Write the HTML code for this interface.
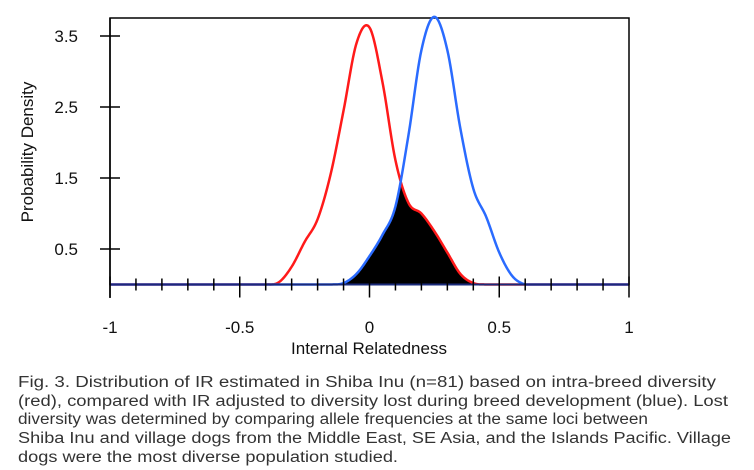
<!DOCTYPE html>
<html><head><meta charset="utf-8"><style>
html,body{margin:0;padding:0;background:#fff;width:754px;height:470px;overflow:hidden}
svg{display:block}
</style></head><body>
<svg id="chart" width="754" height="470" viewBox="0 0 754 470" font-family="Liberation Sans, Arial, sans-serif">
<g id="plot"></g>
<g id="caption" fill="#333" font-size="15.5">
<text x="18" y="387" textLength="698" lengthAdjust="spacingAndGlyphs">Fig. 3. Distribution of IR estimated in Shiba Inu (n=81) based on intra-breed diversity</text>
<text x="18" y="406" textLength="710" lengthAdjust="spacingAndGlyphs">(red), compared with IR adjusted to diversity lost during breed development (blue). Lost</text>
<text x="18" y="424" textLength="630" lengthAdjust="spacingAndGlyphs">diversity was determined by comparing allele frequencies at the same loci between</text>
<text x="18" y="443" textLength="713" lengthAdjust="spacingAndGlyphs">Shiba Inu and village dogs from the Middle East, SE Asia, and the Islands Pacific. Village</text>
<text x="18" y="462" textLength="380" lengthAdjust="spacingAndGlyphs">dogs were the most diverse population studied.</text>
</g>
</svg>
<script>
const redX = [-0.45,-0.4,-0.35,-0.3,-0.25,-0.2,-0.15,-0.1,-0.05,0,0.05,0.1,0.15,0.2,0.25,0.3,0.35,0.4,0.45,0.5];
const redY = [0,0,0.03,0.25,0.6,0.92,1.55,2.45,3.4,3.62,2.85,1.75,1.15,1.0,0.75,0.45,0.15,0.02,0,0];
const blueX = [-0.2,-0.15,-0.1,-0.05,0,0.05,0.1,0.15,0.2,0.25,0.3,0.35,0.4,0.45,0.5,0.55,0.6,0.65];
const blueY = [0,0,0.02,0.15,0.4,0.7,1.1,2.1,3.3,3.77,3.3,2.2,1.35,0.95,0.45,0.12,0.0,0];
const yTicks = [0.5,1.5,2.5,3.5];
const xTickLabels = [-1,-0.5,0,0.5,1];

const NS='http://www.w3.org/2000/svg';
const plot=document.getElementById('plot');
const X0=110,X1=629,Y0=284.5,PY=71;
function sx(v){return X0+(v+1)/2*(X1-X0);}
function sy(v){return Y0-v*PY;}
function mk(tag,attrs,parent){const e=document.createElementNS(NS,tag);for(const k in attrs)e.setAttribute(k,attrs[k]);(parent||plot).appendChild(e);return e;}
function evalCurve(xs,ys,x){
  if(x<=xs[0]||x>=xs[xs.length-1])return 0;
  let i=0;while(xs[i+1]<x)i++;
  const t=(x-xs[i])/(xs[i+1]-xs[i]);
  const p0=ys[Math.max(i-1,0)],p1=ys[i],p2=ys[i+1],p3=ys[Math.min(i+2,ys.length-1)];
  const t2=t*t,t3=t2*t;
  const v=0.5*((2*p1)+(-p0+p2)*t+(2*p0-5*p1+4*p2-p3)*t2+(-p0+3*p1-3*p2+p3)*t3);
  return Math.max(v,0);
}
const step=0.004;
const box=mk('rect',{x:X0,y:18,width:X1-X0,height:Y0-18,fill:'none',stroke:'#000','stroke-width':1.5});


let d='M'+sx(-1)+','+sy(0);
for(let x=-1;x<=1.0001;x+=step){d+=' L'+sx(x).toFixed(2)+','+sy(Math.min(evalCurve(redX,redY,x),evalCurve(blueX,blueY,x))).toFixed(2);}
d+=' L'+sx(1)+','+sy(0)+' Z';
const ov=mk('path',{d:d,fill:'#000'});


function line(xs,ys,color,name){
  let p='';
  for(let x=-1;x<=1.0001;x+=step){p+=(p?' L':'M')+sx(x).toFixed(2)+','+sy(evalCurve(xs,ys,x)).toFixed(2);}
  const e=mk('path',{d:p,fill:'none',stroke:color,'stroke-width':2.5,'stroke-linejoin':'round'});
  
  
}
line(redX,redY,'#ff1a1a','red-density-line');
line(blueX,blueY,'#2a6bff','blue-density-line');
const ax=mk('line',{x1:X0,x2:X1,y1:Y0,y2:Y0,stroke:'#1a2a7a','stroke-width':2});


const yax=mk('line',{x1:X0,x2:X0,y1:18,y2:298,stroke:'#000','stroke-width':1.5});


for(let k=-10;k<=10;k++){
  const v=k/10,major=(k%5===0);
  const t=mk('line',{x1:sx(v),x2:sx(v),y1:major?Y0-8:Y0-6,y2:major?Y0+13:Y0+6,stroke:'#000','stroke-width':1.5});
  
  
}
xTickLabels.forEach(v=>{
  const t=mk('text',{x:sx(v),y:333,'text-anchor':'middle','font-size':17,fill:'#111'});
  t.textContent=String(v);
  
  
});
yTicks.forEach(v=>{
  const t=mk('line',{x1:X0-10,x2:X0+10,y1:sy(v),y2:sy(v),stroke:'#000','stroke-width':1.5});
  
  
  const l=mk('text',{x:78,y:sy(v)+6,'text-anchor':'end','font-size':17,fill:'#111'});
  l.textContent=v.toFixed(1);
  
  
});
const xt=mk('text',{x:369,y:354,'text-anchor':'middle','font-size':17,fill:'#111'});
xt.textContent='Internal Relatedness';


const yt=mk('text',{x:0,y:0,'text-anchor':'middle','font-size':17,fill:'#111',transform:'translate(33,152) rotate(-90)'});
yt.textContent='Probability Density';


</script>
</body></html>
